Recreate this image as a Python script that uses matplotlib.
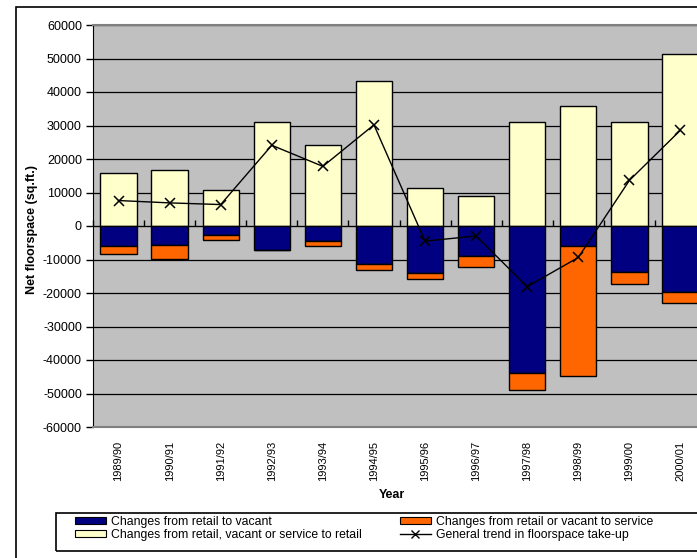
import numpy as np
import matplotlib
matplotlib.use('Agg')
import matplotlib.pyplot as plt
from matplotlib.patches import Rectangle, Patch
from matplotlib.lines import Line2D

plt.rcParams['font.family'] = ['Liberation Sans', 'DejaVu Sans']
plt.rcParams['axes.unicode_minus'] = False

years = ['1989/90', '1990/91', '1991/92', '1992/93', '1993/94', '1994/95',
         '1995/96', '1996/97', '1997/98', '1998/99', '1999/00', '2000/01']
# changes from retail, vacant or service to retail (positive)
to_retail = [15900, 16700, 10600, 31100, 24300, 43400, 11300, 9100, 31100, 35800, 31100, 51400]
# changes from retail to vacant (negative)
retail_to_vacant = [-6100, -5700, -2700, -7200, -4600, -11400, -14000, -9100, -44000, -6100, -13600, -19600]
# changes from retail or vacant to service (negative, stacked under vacant)
to_service = [-2300, -4200, -1500, 0, -1500, -1700, -1800, -3100, -4900, -38700, -3800, -3400]
# general trend in floorspace take-up
trend = [7600, 6900, 6400, 24100, 17800, 30200, -4500, -3000, -18100, -9400, 13600, 28600]

W, H = 697, 558
fig = plt.figure(figsize=(W / 100, H / 100), dpi=100)

# outer chart border (chart is cropped on the right / bottom)
fig.patches.append(Rectangle((16 / W, -0.1), 1.2, 1 - 7 / H + 0.1, transform=fig.transFigure,
                             fill=False, edgecolor='black', lw=1.2))

# plot area runs past the right edge of the picture
ax = fig.add_axes([93 / W, 1 - 427 / H, (706 - 93) / W, (427 - 25) / H])
ax.set_facecolor('#C0C0C0')

x = np.arange(len(years))
bw = 0.71
ax.bar(x, to_retail, bw, color='#FFFFCC', edgecolor='black', lw=1, zorder=2)
ax.bar(x, retail_to_vacant, bw, color='#000080', edgecolor='black', lw=1, zorder=2)
ax.bar(x, to_service, bw, bottom=retail_to_vacant, color='#FF6600', edgecolor='black', lw=1, zorder=2)
ax.plot(x, trend, color='black', lw=1, marker='x', ms=7, mew=1.1, zorder=4)

ax.set_xlim(-0.5, len(years) - 0.5)
ax.set_ylim(-60000, 60000)
ax.set_yticks(np.arange(-60000, 60001, 10000))
ax.yaxis.grid(True, color='black', lw=0.9)
ax.set_axisbelow(True)

ax.spines['left'].set_color('black')
ax.spines['top'].set_color('#808080')
ax.spines['bottom'].set_color('#808080')
ax.spines['right'].set_visible(False)
ax.spines['top'].set_linewidth(1.5)
ax.spines['bottom'].set_linewidth(1.5)

ax.tick_params(axis='y', direction='out', length=5, width=1, labelsize=9, pad=3)
ax.set_xticks(x)
ax.set_xticklabels(years, rotation=90, fontsize=8)
ax.tick_params(axis='x', length=0, pad=10)

# category axis crossing at zero
sec = ax.secondary_xaxis(0.5)
sec.set_xticks(np.arange(-0.5, len(years), 1.0))
sec.set_xticklabels([])
sec.tick_params(direction='out', length=4, width=1)
sec.spines['bottom'].set_color('black')
sec.spines['bottom'].set_linewidth(1)

fig.text(392 / W, 1 - 495 / H, 'Year', ha='center', va='center', fontsize=9, fontweight='bold')
fig.text(32 / W, 1 - 230 / H, 'Net floorspace (sq.ft.)', ha='center', va='center',
         rotation=90, fontsize=9, fontweight='bold')

# legend box
fig.patches.append(Rectangle((56 / W, 1 - 551 / H), 1.0, (551 - 513) / H, transform=fig.transFigure,
                             fill=False, edgecolor='black', lw=1.2))

h_vac = Patch(facecolor='#000080', edgecolor='black', lw=0.8)
h_ret = Patch(facecolor='#FFFFCC', edgecolor='black', lw=0.8)
h_ser = Patch(facecolor='#FF6600', edgecolor='black', lw=0.8)
h_tr = Line2D([], [], color='black', lw=1, marker='x', ms=6, mew=1)

leg_kw = dict(frameon=False, fontsize=8.8, handlelength=2.5, handleheight=0.45,
              handletextpad=0.47, labelspacing=0.05, borderpad=0, borderaxespad=0,
              loc='upper left')
leg1 = fig.legend([h_vac, h_ret], ['Changes from retail to vacant',
                                   'Changes from retail, vacant or service to retail'],
                  bbox_to_anchor=(75 / W, 1 - 516 / H), **leg_kw)
leg2 = fig.legend([h_ser, h_tr], ['Changes from retail or vacant to service',
                                  'General trend in floorspace take-up'],
                  bbox_to_anchor=(400 / W, 1 - 516 / H), **leg_kw)

fig.savefig('out.png', dpi=100)
